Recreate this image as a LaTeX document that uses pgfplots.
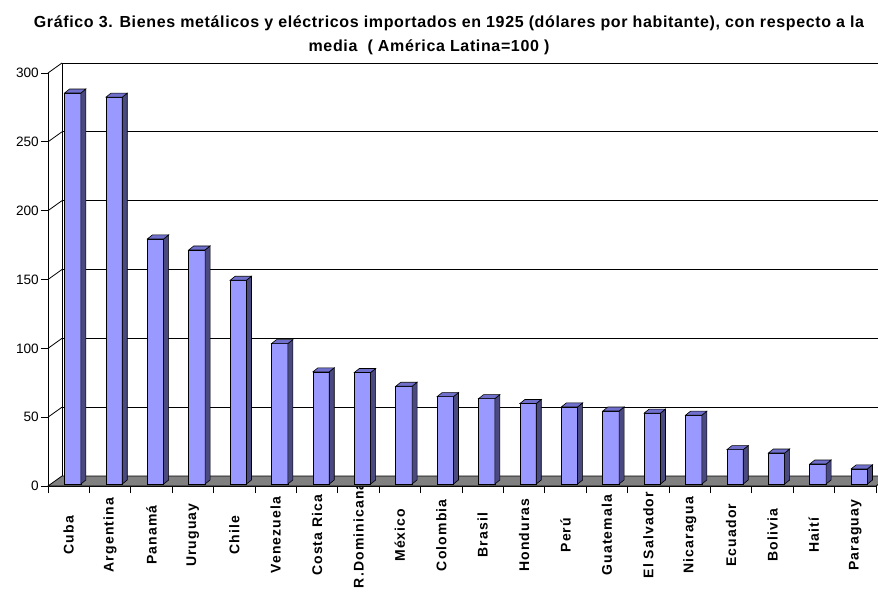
\documentclass[border=0pt]{standalone}
\usepackage{fontspec}
\setmainfont{Liberation Sans}
\usepackage{pgfplots}
\usepackage{pgfplotstable}
\pgfplotsset{compat=1.18}
\definecolor{barfront}{RGB}{153,153,255}
\definecolor{barside}{RGB}{74,74,128}
\definecolor{bartop}{RGB}{112,112,204}
\definecolor{floorgray}{RGB}{128,128,128}
\newcommand{\xl}[1]{\makebox[80pt][c]{#1}}
\pgfplotstableread{
i v
0 284
1 281
2 178
3 170
4 148
5 102
6 81.5
7 81
8 71
9 63.5
10 62
11 58.5
12 56
13 53
14 51.5
15 50
16 25
17 22.5
18 14.5
19 11
}\bars
\begin{document}
\begin{tikzpicture}[x=1pt,y=1pt]
\path[use as bounding box] (0,0) rectangle (878,598);
\clip (0,0) rectangle (878,598);
\node[font=\bfseries\fontsize{16}{19}\selectfont\addfontfeatures{LetterSpace=4}, anchor=base] at (449,570)
  {Gráfico 3. Bienes metálicos y eléctricos importados en 1925 (dólares por habitante), con respecto a la};
\node[font=\bfseries\fontsize{16}{19}\selectfont\addfontfeatures{LetterSpace=4}, anchor=base] at (429,546)
  {media\ \ ( América Latina=100 )};
\begin{axis}[
  at={(48pt,112pt)}, anchor=south west,
  x=41.4pt, y=1.3767pt,
  xmin=-0.5, xmax=19.5, ymin=0, ymax=300,
  axis lines*=left,
  axis line style={black, line width=0.8pt},
  clip=false,
  xtick={-0.5,0.5,1.5,2.5,3.5,4.5,5.5,6.5,7.5,8.5,9.5,10.5,11.5,12.5,13.5,14.5,15.5,16.5,17.5,18.5,19.5},
  x tick label as interval,
  xticklabels={\xl{Cuba},\xl{Argentina},\xl{Panamá},\xl{Uruguay},\xl{Chile},\xl{Venezuela},\xl{Costa Rica},\xl{R.Dominicana},\xl{México},\xl{Colombia},\xl{Brasil},\xl{Honduras},\xl{Perú},\xl{Guatemala},\xl{El Salvador},\xl{Nicaragua},\xl{Ecuador},\xl{Bolivia},\xl{Haití},\xl{Paraguay}},
  ytick={0,50,100,150,200,250,300},
  tick align=outside,
  major tick length=7pt,
  tick style={black, line width=0.8pt},
  /pgf/number format/assume math mode=true,
  yticklabel style={font=\fontsize{13.6}{15}\selectfont, inner sep=2pt},
  xticklabel style={rotate=90, anchor=east, inner sep=2pt,
    font=\bfseries\fontsize{14}{16}\selectfont\addfontfeatures{LetterSpace=8}},
]
% back wall gridlines and side wall edges
\pgfplotsinvokeforeach{50,100,150,200,250,300}{
  \draw[black, line width=0.8pt] ([shift={(14pt,10pt)}]axis cs:-0.5,#1) -- ([shift={(14pt,10pt)}]axis cs:19.5,#1);
  \draw[black, line width=0.8pt] (axis cs:-0.5,#1) -- ([shift={(14pt,10pt)}]axis cs:-0.5,#1);
}
\draw[black, line width=0.8pt] ([shift={(14pt,10pt)}]axis cs:-0.5,0) -- ([shift={(14pt,10pt)}]axis cs:-0.5,300);
% floor
\filldraw[fill=floorgray, draw=black, line width=0.8pt] (axis cs:-0.5,0) -- (axis cs:19.5,0) -- ([shift={(14pt,10pt)}]axis cs:19.5,0) -- ([shift={(14pt,10pt)}]axis cs:-0.5,0) -- cycle;
% 3D bars
\addplot[only marks, scatter, mark=-, mark size=0pt,
  visualization depends on={rawy \as \val},
  scatter/@pre marker code/.code={%
    \pgfmathsetmacro{\bb}{2-\val*1.3767}%
    \begin{scope}
    \filldraw[fill=barfront, draw=black, line width=0.6pt] (-4.15pt,2pt) rectangle (12.15pt,\bb pt);
    \filldraw[fill=barside, draw=black, line width=0.6pt] (12.15pt,2pt) -- (17.15pt,6pt) -- (17.15pt,\bb pt+4pt) -- (12.15pt,\bb pt) -- cycle;
    \filldraw[fill=bartop, draw=black, line width=0.6pt] (-4.15pt,2pt) -- (12.15pt,2pt) -- (17.15pt,6pt) -- (0.85pt,6pt) -- cycle;
  },
  scatter/@post marker code/.code={\end{scope}},
] table[x=i, y=v] {\bars};
\end{axis}
\end{tikzpicture}
\end{document}
